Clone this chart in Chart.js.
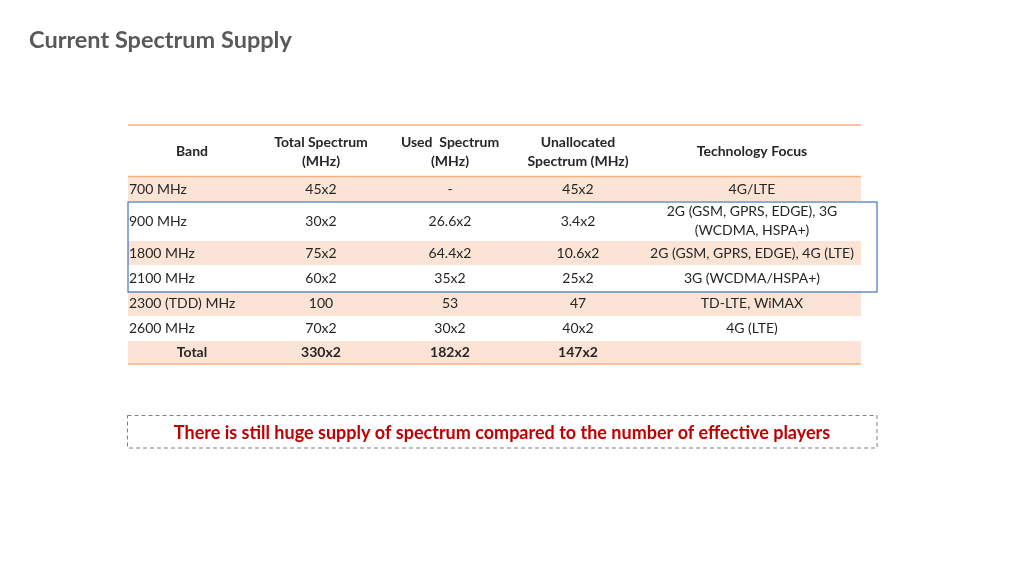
<!DOCTYPE html>
<html><head><meta charset="utf-8">
<script src="https://cdn.jsdelivr.net/npm/chart.js@4/dist/chart.umd.min.js"></script>
<style>html,body{margin:0;background:#fff}#wrap{width:1024px;height:576px;position:relative}</style>
</head><body><div id="wrap"><canvas id="c"></canvas></div>
<script>
// table data
const headers=[["Band"],["Total Spectrum","(MHz)"],["Used  Spectrum","(MHz)"],["Unallocated","Spectrum (MHz)"],["Technology Focus"]];
const bands=["700 MHz","900 MHz","1800 MHz","2100 MHz","2300 (TDD) MHz","2600 MHz"];
const totalSpec=["45x2","30x2","75x2","60x2","100","70x2"];
const usedSpec=["-","26.6x2","64.4x2","35x2","53","30x2"];
const unalloc=["45x2","3.4x2","10.6x2","25x2","47","40x2"];
const tech=[["4G/LTE"],["2G (GSM, GPRS, EDGE), 3G","(WCDMA, HSPA+)"],["2G (GSM, GPRS, EDGE), 4G (LTE)"],["3G (WCDMA/HSPA+)"],["TD-LTE, WiMAX"],["4G (LTE)"]];
const totals=["Total","330x2","182x2","147x2",""];
const note="There is still huge supply of spectrum compared to the number of effective players";

// layout (page units)
const colX=[192,321,450,578,752];
const rowTop=[177,201,241,265,291,316,341];
const rowBot=[201,241,265,291,316,341,364];
const shaded=[true,false,true,false,true,false,true];

const tablePlugin={
id:"table",
afterDraw(chart){
const ctx=chart.ctx,xs=chart.scales.x,ys=chart.scales.y;
const X=v=>xs.getPixelForValue(v),Y=v=>ys.getPixelForValue(v);
ctx.save();
// title
ctx.fillStyle="#595959";ctx.font="bold 23.5px Lato";ctx.textBaseline="middle";ctx.textAlign="left";
ctx.fillText("Current Spectrum Supply",X(29),Y(40));
// shading
rowTop.forEach((t,i)=>{if(shaded[i]){ctx.fillStyle="#fbe4d5";ctx.fillRect(X(128),Y(t),X(861)-X(128),Y(rowBot[i])-Y(t));}});
// orange rules
ctx.strokeStyle="#f4b183";ctx.lineWidth=1.5;
[125,176.5,364].forEach(y=>{ctx.beginPath();ctx.moveTo(X(128),Y(y));ctx.lineTo(X(861),Y(y));ctx.stroke();});
// headers
ctx.fillStyle="#262626";ctx.textAlign="center";ctx.font="bold 14px Lato";
headers.forEach((h,i)=>{
if(h.length==1) ctx.fillText(h[0],X(colX[i]),Y(151));
else{ctx.fillText(h[0],X(colX[i]),Y(142));ctx.fillText(h[1],X(colX[i]),Y(161));}
});
// body
ctx.font="14px Lato";
bands.forEach((b,i)=>{
const cy=(rowTop[i]+rowBot[i])/2;
ctx.textAlign="left";ctx.fillText(b,X(129),Y(cy));
ctx.textAlign="center";
ctx.fillText(totalSpec[i],X(colX[1]),Y(cy));
ctx.fillText(usedSpec[i],X(colX[2]),Y(cy));
ctx.fillText(unalloc[i],X(colX[3]),Y(cy));
const t=tech[i];
if(t.length==1) ctx.fillText(t[0],X(colX[4]),Y(cy));
else{ctx.fillText(t[0],X(colX[4]),Y(cy-9.5));ctx.fillText(t[1],X(colX[4]),Y(cy+9.5));}
});
ctx.font="bold 14px Lato";
const ty=(rowTop[6]+rowBot[6])/2;
totals.forEach((t,i)=>ctx.fillText(t,X(colX[i]),Y(ty)));
// blue highlight box
ctx.strokeStyle="#4472c4";ctx.lineWidth=1.2;
ctx.strokeRect(X(128),Y(202),X(877)-X(128),Y(292)-Y(202));
// note box
ctx.strokeStyle="#7f7f7f";ctx.lineWidth=1;ctx.setLineDash([4,3]);
ctx.strokeRect(X(127.5),Y(415.5),X(877)-X(127.5),Y(448)-Y(415.5));
ctx.setLineDash([]);
ctx.fillStyle="#c00000";ctx.font="bold 18px Lato";
ctx.fillText(note,X(502),Y(433));
ctx.restore();
}};

new Chart(document.getElementById("c"),{
type:"scatter",
data:{datasets:[{data:[]}]},
options:{
responsive:true,maintainAspectRatio:false,animation:false,
layout:{padding:0},
plugins:{legend:{display:false},tooltip:{enabled:false}},
scales:{
x:{type:"linear",min:0,max:1024,display:false},
y:{type:"linear",min:0,max:576,reverse:true,display:false}
}
},
plugins:[tablePlugin]
});
</script></body></html>
